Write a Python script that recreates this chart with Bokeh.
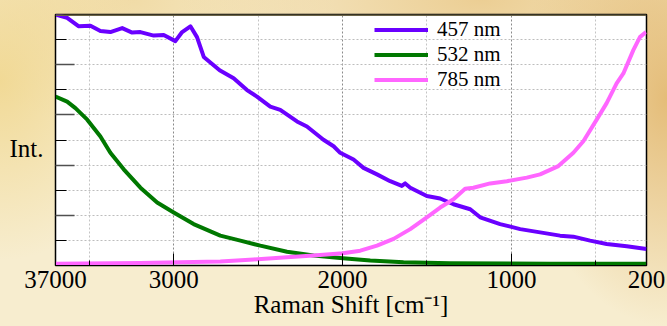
from bokeh.plotting import figure
from bokeh.models import Range1d, FixedTicker, Legend, LegendItem, Span, LinearAxis
from bokeh.embed import file_html
from bokeh.resources import INLINE

# ---- data ----
x457 = [3700, 3631, 3562, 3493, 3434, 3375, 3305, 3246, 3197, 3118, 3059, 2990, 2950, 2901,
        2862, 2822, 2728, 2645, 2566, 2507, 2428, 2369, 2270, 2211, 2113, 2053, 2014, 1935,
        1876, 1796, 1718, 1649, 1629, 1599, 1501, 1422, 1343, 1244, 1185, 1067, 948, 830,
        712, 633, 534, 436, 317, 200]
y457 = [10.0, 9.87, 9.53, 9.55, 9.34, 9.30, 9.46, 9.28, 9.30, 9.16, 9.18, 8.94, 9.30, 9.53,
        9.10, 8.31, 7.78, 7.46, 6.99, 6.73, 6.33, 6.20, 5.74, 5.54, 5.01, 4.75, 4.49, 4.22,
        3.89, 3.63, 3.36, 3.17, 3.27, 3.10, 2.77, 2.67, 2.44, 2.24, 1.92, 1.65, 1.45, 1.32,
        1.19, 1.15, 0.99, 0.86, 0.77, 0.66]

x532 = [3700, 3631, 3582, 3512, 3434, 3375, 3296, 3197, 3098, 3000, 2882, 2724, 2605, 2487,
        2329, 2172, 1998, 1836, 1639, 1363, 771, 200]
y532 = [6.73, 6.53, 6.27, 5.81, 5.14, 4.49, 3.83, 3.10, 2.51, 2.11, 1.65, 1.19, 0.99, 0.79,
        0.55, 0.40, 0.29, 0.20, 0.13, 0.09, 0.07, 0.07]

x785 = [3700, 3200, 2724, 2527, 2329, 2172, 1998, 1895, 1796, 1698, 1599, 1501, 1422, 1343,
        1274, 1225, 1126, 1027, 909, 830, 722, 633, 574, 495, 436, 377, 337, 278, 239, 203]
y785 = [0.07, 0.10, 0.16, 0.24, 0.33, 0.40, 0.49, 0.59, 0.79, 1.06, 1.45, 1.92, 2.31, 2.64,
        3.06, 3.10, 3.27, 3.36, 3.50, 3.63, 3.96, 4.49, 4.95, 5.81, 6.47, 7.26, 7.65, 8.58,
        9.10, 9.30]

series_names = ["457 nm", "532 nm", "785 nm"]
series_colors = ["#6a00ff", "#007800", "#ff66ff"]

x_ticks = [3700, 3000, 2000, 1000, 200]
x_tick_labels = {3700: "37000", 3000: "3000", 2000: "2000", 1000: "1000", 200: "200"}
x_minor = [3500, 2500, 1500, 500]
y_long = [2, 4, 6, 8]
y_short = [1, 3, 5, 7, 9]
y_title = "Int."
y_title_pos = 4.66

FONT = "Liberation Serif"

p = figure(width=667, height=326, output_backend="svg", toolbar_location=None,
           x_range=Range1d(3700, 200), y_range=Range1d(0, 10),
           min_border_left=55, min_border_right=21, min_border_top=14, min_border_bottom=61)
p.styles = {"background": (
    "radial-gradient(ellipse 22% 70% at 100% 30%, rgba(225,180,105,0.85), rgba(225,180,105,0) 100%),"
    "radial-gradient(ellipse 45% 35% at 72% 0%, rgba(232,196,128,0.75), rgba(232,196,128,0) 100%),"
    "radial-gradient(ellipse 22% 55% at 0% 25%, rgba(240,214,140,0.85), rgba(240,214,140,0) 100%),"
    "radial-gradient(ellipse 30% 40% at 20% 0%, rgba(238,212,150,0.7), rgba(238,212,150,0) 100%),"
    "#f7edcf")}
p.border_fill_alpha = 0
p.background_fill_color = "white"
p.outline_line_color = "black"
p.outline_line_width = 1.5

# grids
p.xgrid.ticker = FixedTicker(ticks=[3000, 2000, 1000], minor_ticks=x_minor)
p.xgrid.grid_line_color = "#8a8a8a"
p.xgrid.grid_line_dash = "2 2"
p.xgrid.minor_grid_line_color = "#c4c4c4"
p.xgrid.minor_grid_line_dash = "2 2"
p.ygrid.ticker = FixedTicker(ticks=list(range(1, 10)))
p.ygrid.grid_line_color = "#bdbdbd"
p.ygrid.grid_line_dash = "2 2"

# x axis
xa = p.xaxis[0]
xa.ticker = FixedTicker(ticks=x_ticks, minor_ticks=x_minor)
xa.major_label_overrides = x_tick_labels
xa.major_label_text_font = FONT
xa.major_label_text_font_size = "25px"
xa.major_label_text_color = "black"
xa.major_label_standoff = 5
xa.major_tick_in = 12
xa.major_tick_out = 0
xa.minor_tick_in = 5
xa.minor_tick_out = 0
xa.axis_line_color = "black"
xa.major_tick_line_color = "black"
xa.minor_tick_line_color = "black"
xa.axis_label = "Raman Shift [cm\u207b\u00b9]"
xa.axis_label_text_font = FONT
xa.axis_label_text_font_size = "25px"
xa.axis_label_text_font_style = "normal"
xa.axis_label_text_color = "black"
xa.axis_label_standoff = 0

# inner y axis: long ticks only, no labels
ya = p.yaxis[0]
ya.ticker = FixedTicker(ticks=[], minor_ticks=y_long)
ya.major_label_standoff = 0
ya.major_tick_in = 0
ya.major_tick_out = 0
ya.minor_tick_in = 19
ya.minor_tick_out = 0
ya.minor_tick_line_color = "#505050"
ya.minor_tick_line_width = 1.5
ya.axis_line_color = "black"

# outer y axis: short ticks and the "Int." title as its single label
yb = LinearAxis(ticker=FixedTicker(ticks=[y_title_pos], minor_ticks=y_short),
                major_label_overrides={y_title_pos: y_title},
                major_label_text_font=FONT, major_label_text_font_size="25px",
                major_label_text_color="black", major_label_standoff=12,
                major_tick_in=0, major_tick_out=0, minor_tick_in=11, minor_tick_out=0,
                minor_tick_line_color="black", axis_line_alpha=0)
p.add_layout(yb, "left")

# top border (olive)
p.add_layout(Span(location=10, dimension="width", line_color="#6b6448", line_width=3))

renderers = []
for xs, ys, c in zip([x457, x532, x785], [y457, y532, y785], series_colors):
    r = p.line(xs, ys, line_color=c, line_width=4, line_join="round")
    renderers.append(r)

legend = Legend(items=[LegendItem(label=n, renderers=[r]) for n, r in zip(series_names, renderers)],
                location=(319, 173), padding=0, spacing=0, margin=0,
                glyph_width=54, glyph_height=25, label_height=25, label_standoff=9,
                label_text_font=FONT, label_text_font_size="21px", label_text_color="black",
                border_line_alpha=0, background_fill_alpha=0)
p.add_layout(legend)

open("out.html", "w").write(file_html(p, INLINE))
